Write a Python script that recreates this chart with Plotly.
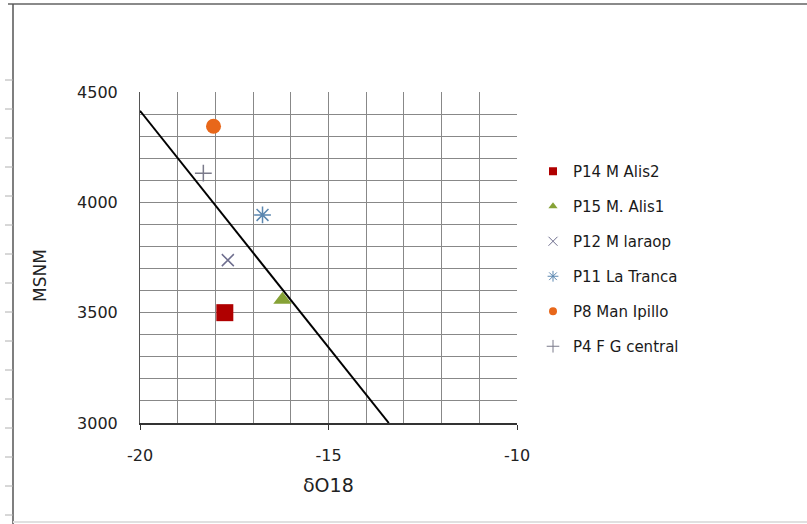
import plotly.graph_objects as go

# ---- data ----
names = ["P14 M Alis2", "P15 M. Alis1", "P12 M laraop", "P11 La Tranca", "P8 Man Ipillo", "P4 F G central"]
d18O = [-17.75, -16.22, -17.67, -16.75, -18.05, -18.32]
msnm = [3500, 3558, 3738, 3943, 4345, 4132]
line_x = [-20.0, -13.4]
line_y = [4415, 3000]
x_tick_vals = [-20, -15, -10]
x_tick_labels = ["-20", "-15", "-10"]
y_tick_vals = [3000, 3500, 4000, 4500]
y_tick_labels = ["3000", "3500", "4000", "4500"]

symbols = ["square", "triangle-up", "x-thin-open", "asterisk-open", "circle", "cross-thin-open"]
colors = ["#B00000", "#86A236", "#6E6E8E", "#5B87B0", "#E8671A", "#7A7A8A"]
sizes = [17, 16, 12, 14, 15, 12]
leg_sizes = [8, 8, 9, 9, 8, 9]

W, H = 807, 524
L, R, T, B = 140, 517, 92, 423


def px(xp):
    return (xp - L) / (R - L)


def py(yp):
    return 1 - (yp - T) / (B - T)


fig = go.Figure()

fig.add_trace(go.Scatter(x=line_x, y=line_y, mode="lines",
                         line=dict(color="black", width=2), showlegend=False, hoverinfo="skip"))

for i, n in enumerate(names):
    lw = 1.5 if "open" in symbols[i] else 0
    fig.add_trace(go.Scatter(x=[d18O[i]], y=[msnm[i]], mode="markers", name=n, showlegend=False,
                             marker=dict(symbol=symbols[i], color=colors[i], size=sizes[i],
                                         line=dict(color=colors[i], width=lw))))
    fig.add_trace(go.Scatter(x=[None], y=[None], mode="markers", name=n, legendgroup="g%d" % i,
                             marker=dict(symbol=symbols[i], color=colors[i], size=leg_sizes[i],
                                         line=dict(color=colors[i], width=1 if lw else 0))))

shapes = [
    dict(type="line", xref="paper", yref="paper", x0=px(8), x1=px(807), y0=py(4), y1=py(4),
         line=dict(color="#8a8a8a", width=2)),
    dict(type="line", xref="paper", yref="paper", x0=px(13), x1=px(13), y0=py(4), y1=py(524),
         line=dict(color="#555555", width=1.5)),
    dict(type="line", xref="paper", yref="paper", x0=px(13), x1=px(807), y0=py(522), y1=py(522),
         line=dict(color="#e0e0e0", width=2)),
]
for k in range(18):
    yy = 80 + 29 * k
    if yy > 520:
        break
    shapes.append(dict(type="line", xref="paper", yref="paper", x0=px(5), x1=px(13), y0=py(yy), y1=py(yy),
                       line=dict(color="#b0b0b0", width=1)))

fig.update_layout(
    width=W, height=H,
    margin=dict(l=L, r=W - R, t=T, b=H - B),
    paper_bgcolor="white", plot_bgcolor="white",
    font=dict(family="DejaVu Sans", color="#222222"),
    xaxis=dict(range=[-20, -10], tickmode="array", tickvals=x_tick_vals, ticktext=x_tick_labels,
               showgrid=True, gridcolor="#888888", gridwidth=1,
               minor=dict(dtick=1, tick0=-20, showgrid=True, gridcolor="#888888", gridwidth=1),
               showline=True, linecolor="#333333", linewidth=1.5,
               ticks="outside", ticklen=5, tickcolor="#333333", ticklabelstandoff=12,
               tickfont=dict(size=16, family="DejaVu Sans", color="#222222"),
               zeroline=False, fixedrange=True),
    yaxis=dict(range=[3000, 4500], tickmode="array", tickvals=y_tick_vals, ticktext=y_tick_labels,
               showgrid=True, gridcolor="#888888", gridwidth=1,
               minor=dict(dtick=100, tick0=3000, showgrid=True, gridcolor="#888888", gridwidth=1),
               showline=True, linecolor="#555555", linewidth=1,
               ticks="", ticklabelstandoff=18,
               tickfont=dict(size=16, family="DejaVu Sans", color="#222222"),
               zeroline=False, fixedrange=True),
    showlegend=True,
    legend=dict(x=px(533), y=py(155), xanchor="left", yanchor="top",
                traceorder="grouped", tracegroupgap=12.5,
                font=dict(size=15, family="DejaVu Sans", color="#1a1a1a"),
                bgcolor="rgba(0,0,0,0)"),
    shapes=shapes,
    annotations=[
        dict(text="δO18", xref="paper", yref="paper", x=px(328), y=py(485), showarrow=False,
             xanchor="center", yanchor="middle", font=dict(size=19, family="DejaVu Sans", color="#222222")),
        dict(text="MSNM", xref="paper", yref="paper", x=px(40), y=py(275), showarrow=False, textangle=-90,
             xanchor="center", yanchor="middle", font=dict(size=17, family="DejaVu Sans", color="#222222")),
    ],
)

fig.write_html("out.html", config={"displayModeBar": False})

# remove the default page margin so the figure sits at the window origin
with open("out.html", "r", encoding="utf-8") as f:
    html = f.read()
html = html.replace("<head>", "<head><style>html,body{margin:0;padding:0;overflow:hidden}</style>", 1)
with open("out.html", "w", encoding="utf-8") as f:
    f.write(html)
